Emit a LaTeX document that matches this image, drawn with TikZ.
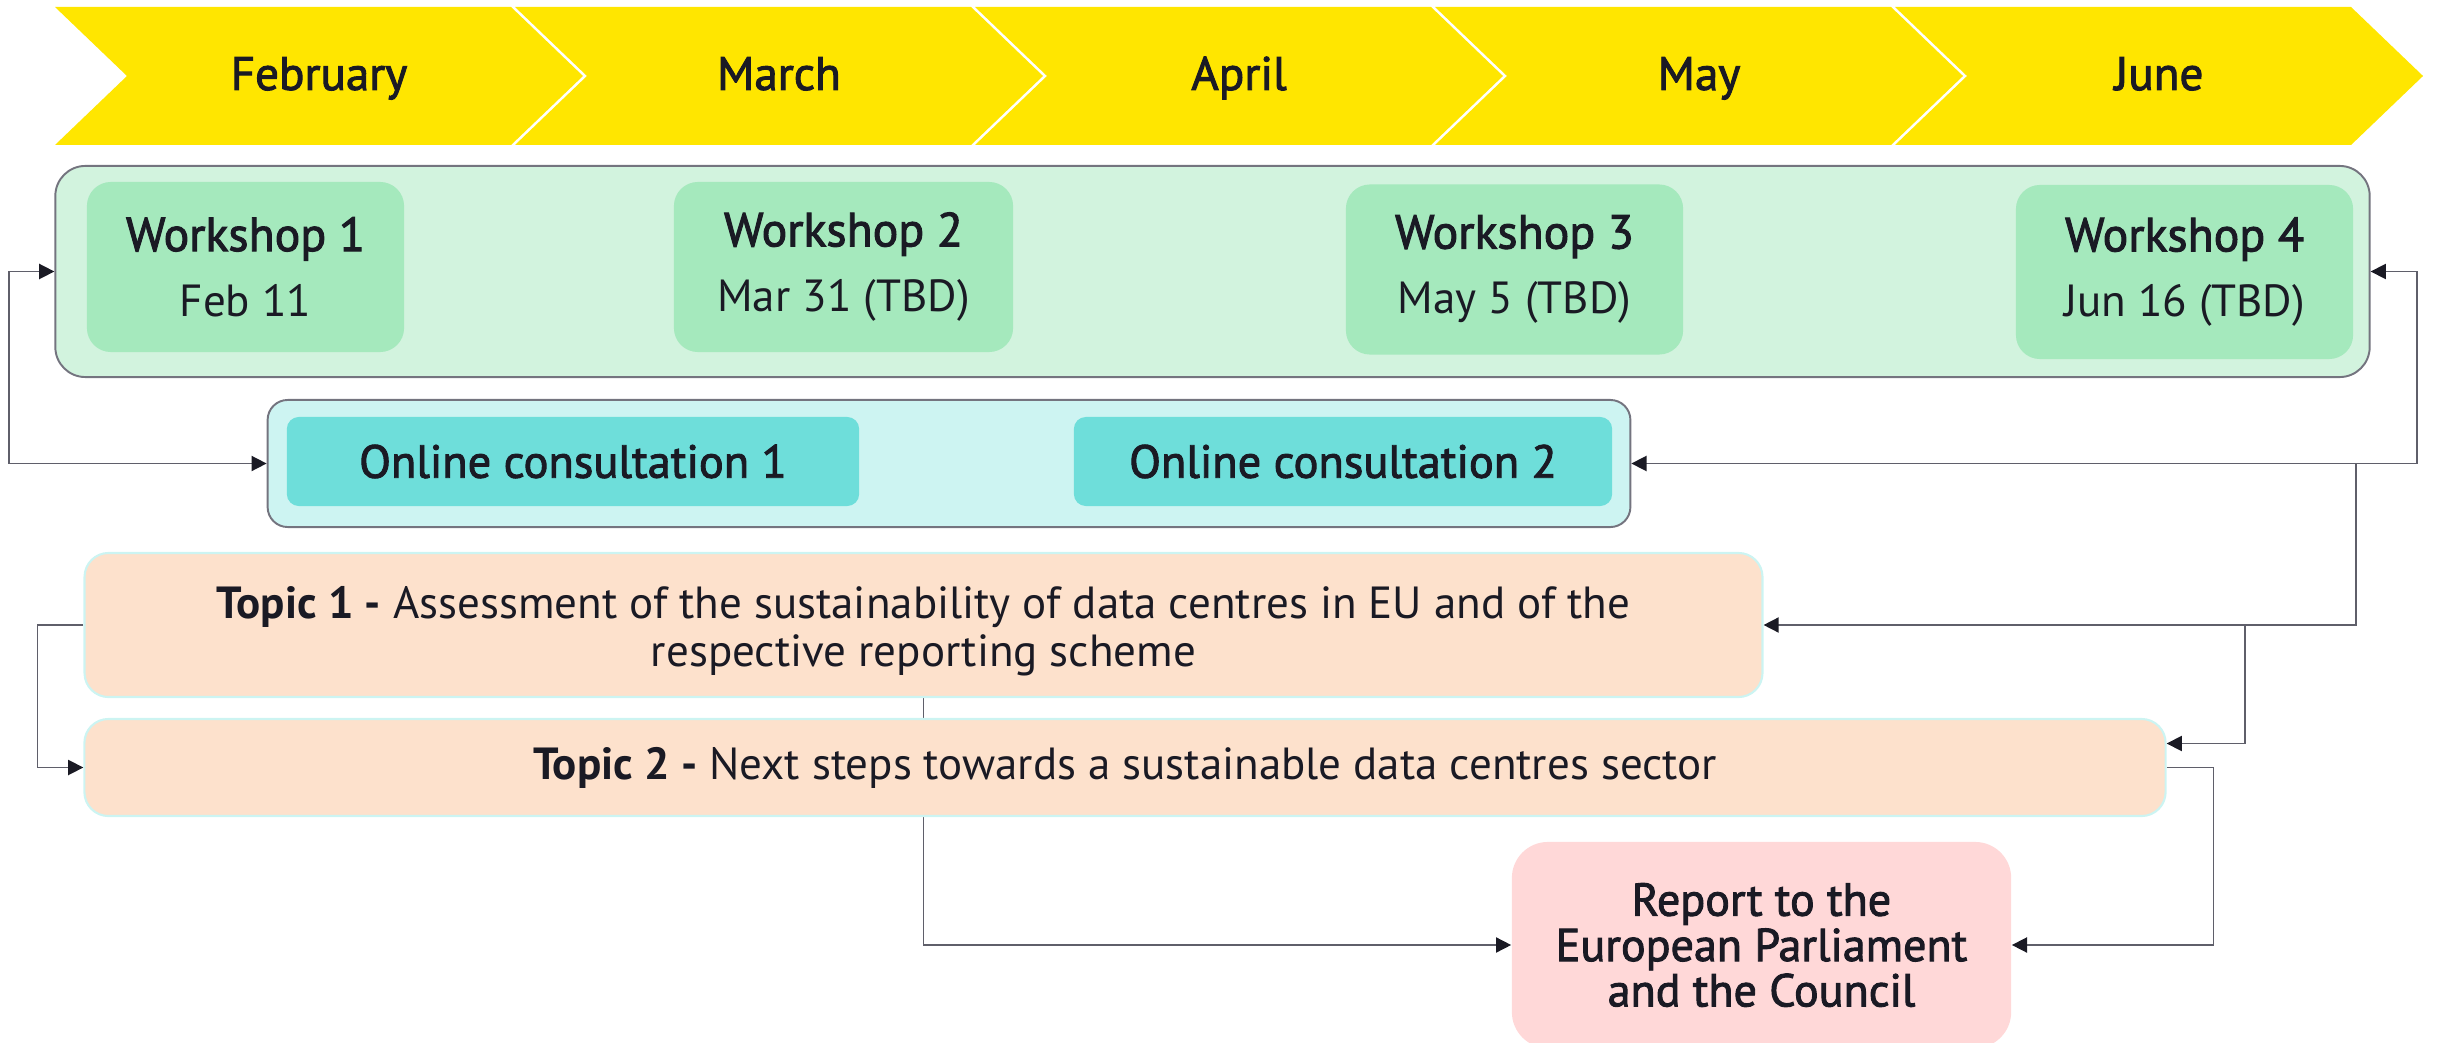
\documentclass[tikz,border=0pt]{standalone}
\usepackage{fontspec}
\setmainfont{PT Sans}
\newfontfamily\medfont{PT Sans}[FakeBold=2]
\usepackage{tikz}
\usetikzlibrary{arrows.meta,backgrounds,calc}
\usepackage{xcolor}

\definecolor{eyyellow}{HTML}{FFE600}
\definecolor{ink}{HTML}{1A1A24}
\definecolor{wsback}{HTML}{D2F3DE}
\definecolor{wsfill}{HTML}{A5E9BD}
\definecolor{ocback}{HTML}{CDF4F2}
\definecolor{ocfill}{HTML}{6EDEDA}
\definecolor{topicfill}{HTML}{FDE1CC}
\definecolor{topicline}{HTML}{CCF4F2}
\definecolor{repfill}{HTML}{FFD8D8}
\definecolor{frame}{HTML}{74747F}
\definecolor{wirecol}{HTML}{5F5F6A}

\tikzset{
	>={Triangle[length=4.3pt,width=4.3pt,color=ink]},
	month/.style={text=ink, anchor=base, font=\medfont\fontsize{13.4}{16}\selectfont},
	group/.style={draw=frame, line width=0.55pt, rounded corners=0.3cm, inner sep=0pt},
	workshop/.style={fill=wsfill, rounded corners=0.24cm, text=ink, align=center, inner sep=0pt, minimum height=1.70cm, font=\fontsize{12.8}{18.6}\selectfont},
	consult/.style={fill=ocfill, rounded corners=0.12cm, text=ink, inner sep=0pt, minimum height=0.89cm, font=\medfont\fontsize{13.2}{16}\selectfont},
	topic/.style={fill=topicfill, draw=topicline, line width=0.6pt, rounded corners=0.24cm, text=ink, align=center, inner sep=0pt, font=\fontsize{12.8}{13.6}\selectfont},
	report/.style={fill=repfill, rounded corners=0.36cm, text=ink, align=center, inner sep=0pt, font=\medfont\fontsize{13.1}{12.9}\selectfont},
	wire/.style={draw=wirecol, line width=0.45pt, ->},
	wireboth/.style={draw=wirecol, line width=0.45pt, <->}
}
\newcommand{\wstitle}[1]{{\medfont\fontsize{13.6}{18.6}\selectfont #1}}
\newcommand{\topiclabel}[1]{{\bfseries #1}}

\begin{document}
\begin{tikzpicture}[x=0.01cm, y=-0.01cm]
	\useasboundingbox (0,0) rectangle (2437,1043);

	\foreach \m [count=\i from 0] in {February,March,April,May,June}{
		\fill[eyyellow] ({55+460*\i},7) -- ++(456,0) -- ++(72,69) -- ++(-72,69) -- ++(-456,0) -- ++(72,-69) -- cycle;
		\node[month] (m\i) at ({55+460*\i+264},90) {\m};
	}

	\node[group, fill=wsback, minimum width=23.13cm, minimum height=2.11cm] (wsbox) at (1212.5,271.5) {};
	\node[workshop, minimum width=3.17cm] (ws1) at (245.5,267) {\wstitle{Workshop 1}\\Feb 11};
	\node[workshop, minimum width=3.39cm] (ws2) at (843.5,267) {\wstitle{Workshop 2}\\Mar 31 (TBD)};
	\node[workshop, minimum width=3.37cm] (ws3) at (1514.5,269.5) {\wstitle{Workshop 3}\\May 5 (TBD)};
	\node[workshop, minimum width=3.37cm, minimum height=1.74cm] (ws4) at (2184.5,272) {\wstitle{Workshop 4}\\Jun 16 (TBD)};

	\node[group, fill=ocback, minimum width=13.62cm, minimum height=1.27cm, rounded corners=0.2cm] (ocbox) at (949,463.5) {};
	\node[consult, minimum width=5.72cm] (oc1) at (573,461.5) {Online consultation 1};
	\node[consult, minimum width=5.38cm] (oc2) at (1343,461.5) {Online consultation 2};

	\node[topic, minimum width=16.77cm, minimum height=1.44cm] (t1) at (923.5,625) {\rule{0pt}{0.45cm}\topiclabel{Topic 1 -} Assessment of the sustainability of data centres in EU and of the\\respective reporting scheme};
	\node[topic, minimum width=20.80cm, minimum height=0.97cm] (t2) at (1125,767.5) {\topiclabel{Topic 2 -} Next steps towards a sustainable data centres sector};

	\node[report, minimum width=4.99cm, minimum height=2.06cm] (rep) at (1761.5,945) {Report to the\\European Parliament\\and the Council};

	\coordinate (lft) at (9,0);
	\coordinate (rgt) at (2417,0);
	\coordinate (jA) at (2356,0);
	\coordinate (jB) at (2245,0);

	\begin{scope}[on background layer]
		\draw[wireboth] (wsbox.west) -- (wsbox.west -| lft) |- (ocbox.west);
		\draw[wireboth] (wsbox.east) -- (wsbox.east -| rgt) |- (ocbox.east);
		\draw[wire] (ocbox.east -| jA) |- (t1.east);
		\draw[wire] (t1.east -| jB) |- ($(t2.east)+(0,-24)$);
		\draw[wire] (t1.west) -- ++(-46,0) |- (t2.west);
		\draw[wire] (t1.south) |- (rep.west);
		\draw[wire] (t2.east) -- ++(47,0) |- (rep.east);
	\end{scope}
\end{tikzpicture}
\end{document}
